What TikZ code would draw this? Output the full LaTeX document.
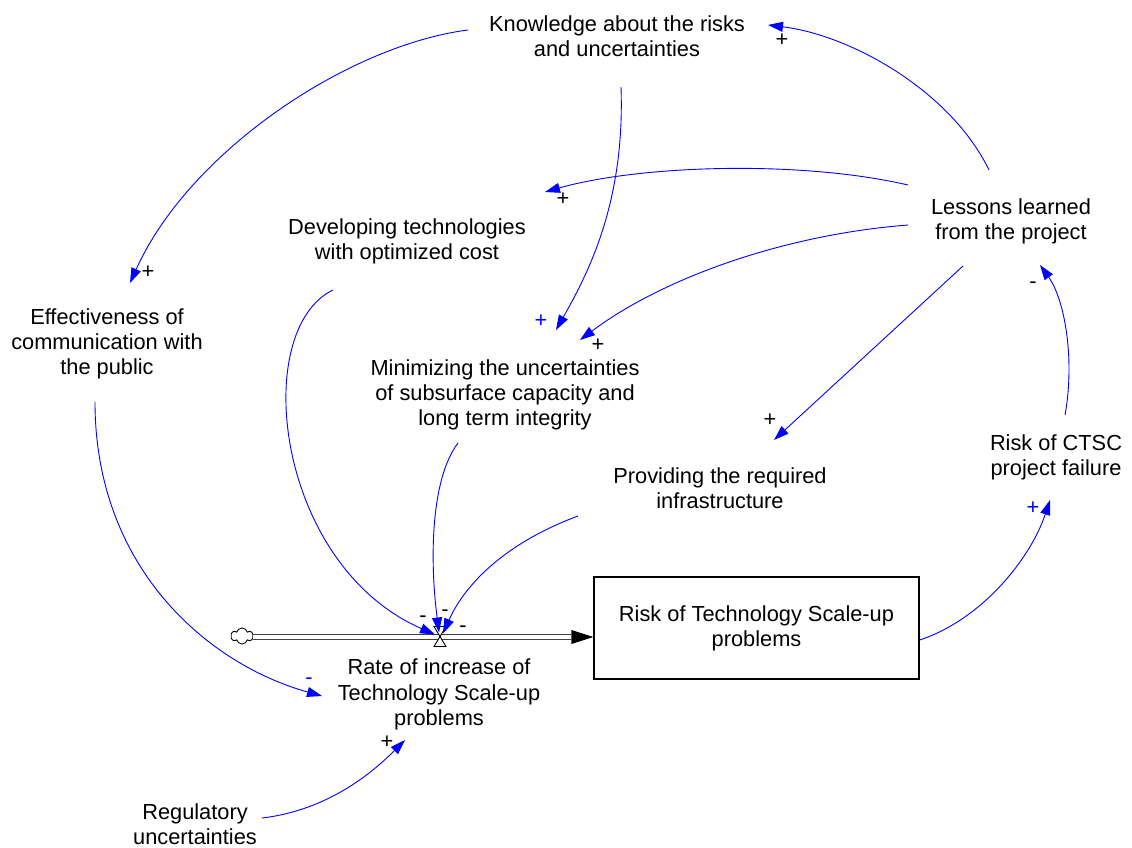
\documentclass[tikz,border=0pt]{standalone}
\usepackage{fontspec}
\setmainfont{Liberation Sans}
\usetikzlibrary{arrows.meta,calc,shapes.symbols}
\begin{document}
\begin{tikzpicture}[x=1pt,y=-1pt,
  lbl/.style={align=center,font=\fontsize{21.8}{25.2}\selectfont,inner sep=0pt},
  link/.style={draw=blue, line width=0.9pt, -{Triangle[length=15pt,width=10pt]}},
  sgn/.style={font=\fontsize{21.8}{22}\selectfont,inner sep=0pt},
  bsgn/.style={sgn,text=blue}]
\useasboundingbox (0,0) rectangle (1132,848);
\fill[white] (0,0) rectangle (1132,848);
% variables
\node[lbl] (know) at (617,36) {Knowledge about the risks\\and uncertainties};
\node[lbl] (lessons) at (1011,221.5) {Lessons learned\\from the project};
\node[lbl] (dev) at (407,241.5) {Developing technologies\\with optimized cost};
\node[lbl] (eff) at (107,344) {Effectiveness of\\communication with\\the public};
\node[lbl] (mini) at (505,395) {Minimizing the uncertainties\\of subsurface capacity and\\long term integrity};
\node[lbl] (prov) at (720,488.5) {Providing the required\\infrastructure};
\node[lbl] (ctsc) at (1056,457.5) {Risk of CTSC\\project failure};
\node[lbl,draw,line width=1.2pt,minimum width=325pt,minimum height=102pt] (box) at (756.5,628) {Risk of Technology Scale-up\\problems};
\node[lbl] (rate) at (439,694.5) {Rate of increase of\\Technology Scale-up\\problems};
\node[lbl] (reg) at (195,824) {Regulatory\\uncertainties};
% flow pipe
\node[cloud,draw,cloud puffs=6,minimum width=22pt,minimum height=16pt,inner sep=0pt,line width=0.9pt] (cloud) at (242,636) {};
\coordinate (pin) at ($(box.west)+(0,9)$);
\coordinate (pbase) at ($(pin)+(-22,0)$);
\draw[line width=1.1pt,draw=black!75,double distance=3.5pt] (cloud.east|-pin) -- (pbase);
\fill (pin) -- ($(pbase)+(0,-7)$) -- ($(pbase)+(0,7)$) -- cycle;
\coordinate (valve) at (440,636.5);
\draw[fill=white,line width=0.9pt] ($(valve)+(-6,-10)$) -- ($(valve)+(6,-10)$) -- ($(valve)+(-6,10)$) -- ($(valve)+(6,10)$) -- cycle;
% links
\draw[link] ($(know)+(-149,-6)$) .. controls +(-118,15) and +(60,-133) .. ($(eff)+(23,-61)$);
\draw[link] ($(know)+(4,51)$) .. controls +(4,113) and +(34,-60) .. ($(mini)+(51,-65)$);
\draw[link] ($(lessons)+(-22,-51.5)$) .. controls +(-39,-80) and +(82,10) .. ($(know)+(151,-11)$);
\draw[link] ($(lessons)+(-103,-36.5)$) .. controls +(-108,-25) and +(95,-27) .. ($(dev)+(138,-49.5)$);
\draw[link] ($(lessons)+(-103,3.5)$) .. controls +(-128,10) and +(80,-60) .. ($(mini)+(75,-55)$);
\draw[link] ($(lessons)+(-48,44.5)$) -- ($(prov)+(54,-48.5)$);
\draw[link] ($(ctsc)+(9,-42.5)$) .. controls +(10,-55) and +(25,35) .. ($(lessons)+(29,43.5)$);
\draw[link] ($(box.east)+(0,12)$) .. controls +(61,-20) and +(-20,60) .. ($(ctsc)+(-6,42.5)$);
\draw[link] ($(dev)+(-74,48.5)$) .. controls +(-83,40) and +(-160,-70) .. ($(valve)+(-5,-2)$);
\draw[link] ($(mini)+(-47,48)$) .. controls +(-28,37) and +(-9,-70) .. ($(valve)+(-1,-4)$);
\draw[link] ($(prov)+(-142,27.5)$) .. controls +(-78,29) and +(20,-45) .. ($(valve)+(3,-3)$);
\draw[link] ($(eff)+(-12,58)$) .. controls +(0,165) and +(-115,-32) .. ($(rate)+(-117,1.5)$);
\draw[link] ($(reg)+(67,-6)$) .. controls +(68,-8) and +(-30,30) .. ($(rate)+(-34,45.5)$);
% polarity signs
\node[sgn] (s1) at (148,272) {+};
\node[bsgn] (s2) at (541,321) {+};
\node[sgn] (s3) at (782,40) {+};
\node[sgn] (s4) at (563,199) {+};
\node[sgn] (s5) at (598,345) {+};
\node[sgn] (s6) at (770,420) {+};
\node[sgn] (s7) at (1033,285) {-};
\node[bsgn] (s8) at (1033,508) {+};
\node[sgn] (s9) at (423,619) {-};
\node[sgn] (s10) at (445,613) {-};
\node[sgn] (s11) at (463,629) {-};
\node[bsgn] (s12) at (309,681) {-};
\node[sgn] (s13) at (387,742) {+};
\end{tikzpicture}
\end{document}
